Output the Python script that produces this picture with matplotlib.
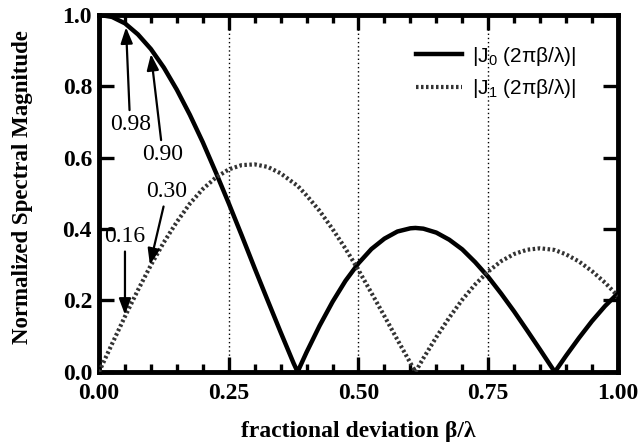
import numpy as np
import matplotlib.pyplot as plt
from matplotlib.ticker import MultipleLocator

plt.rcParams['font.family'] = ['Liberation Serif', 'DejaVu Serif']
plt.rcParams['mathtext.fontset'] = 'custom'
plt.rcParams['mathtext.rm'] = 'Liberation Sans'

# values (fractional deviation beta/lambda)
beta = [0.000, 0.025, 0.050, 0.075, 0.100, 0.125, 0.150, 0.175, 0.200, 0.225,
        0.250, 0.275, 0.300, 0.325, 0.350, 0.375, 0.3827, 0.400, 0.425, 0.450,
        0.475, 0.500, 0.525, 0.550, 0.575, 0.600, 0.6098, 0.625, 0.650, 0.675,
        0.700, 0.725, 0.750, 0.775, 0.800, 0.825, 0.850, 0.875, 0.8786, 0.900,
        0.925, 0.950, 0.975, 1.000]
j0_mag = [1.000, 0.994, 0.976, 0.945, 0.904, 0.852, 0.790, 0.720, 0.643, 0.559,
          0.472, 0.382, 0.290, 0.200, 0.111, 0.024, 0.000, 0.055, 0.129, 0.196,
          0.255, 0.304, 0.344, 0.373, 0.393, 0.402, 0.403, 0.401, 0.390, 0.370,
          0.343, 0.307, 0.266, 0.219, 0.169, 0.116, 0.062, 0.007, 0.000, 0.045,
          0.095, 0.142, 0.184, 0.220]
j1_mag = [0.000, 0.078, 0.155, 0.229, 0.299, 0.363, 0.420, 0.471, 0.512, 0.544,
          0.567, 0.579, 0.581, 0.574, 0.556, 0.529, 0.521, 0.494, 0.451, 0.400,
          0.345, 0.285, 0.221, 0.156, 0.090, 0.025, 0.000, 0.038, 0.097, 0.152,
          0.202, 0.245, 0.281, 0.310, 0.330, 0.342, 0.346, 0.342, 0.341, 0.329,
          0.309, 0.282, 0.250, 0.212]

# annotated sample points: (x, y, label, text x, text y)
notes = [(0.052, 0.965, '0.98', 0.060, 0.692),
         (0.100, 0.890, '0.90', 0.123, 0.608),
         (0.098, 0.300, '0.30', 0.131, 0.504),
         (0.050, 0.160, '0.16', 0.050, 0.378)]

fig = plt.figure(figsize=(6.43, 4.48), dpi=100)
ax = fig.add_axes([0.154, 0.170, 0.807, 0.797])

for xv in [0.25, 0.5, 0.75]:
    ax.axvline(xv, color='black', lw=1, ls=(0, (1, 2)), zorder=1)

ax.plot(beta, j0_mag, color='black', lw=3.2, label=r'|J$_0$ (2πβ/λ)|', zorder=3)
ax.plot(beta, j1_mag, color='#333333', lw=3.0, ls=(0, (0.6, 0.6)),
        label=r'|J$_1$ (2πβ/λ)|', zorder=3)

for x, y, lab, tx, ty in notes:
    ax.annotate(lab, xy=(x, y), xytext=(tx, ty), fontsize=17,
                ha='center', va='center',
                arrowprops=dict(arrowstyle='-|>,head_length=0.8,head_width=0.3',
                                color='black', lw=1.6, mutation_scale=12,
                                shrinkA=1, shrinkB=0))

ax.set_xlim(0, 1)
ax.set_ylim(0, 1)
ax.xaxis.set_major_locator(MultipleLocator(0.25))
ax.xaxis.set_minor_locator(MultipleLocator(0.05))
ax.yaxis.set_major_locator(MultipleLocator(0.2))
ax.xaxis.set_major_formatter(plt.FuncFormatter(lambda v, p: '%.2f' % v))
ax.yaxis.set_major_formatter(plt.FuncFormatter(lambda v, p: '%.1f' % v))
ax.tick_params(which='major', direction='in', length=11, width=2.4,
               top=True, right=True, labelsize=17, pad=5)
ax.tick_params(axis='x', which='major', pad=8)
ax.tick_params(which='minor', direction='in', length=6, width=2.4,
               top=True, right=True)
for lbl in ax.get_xticklabels() + ax.get_yticklabels():
    lbl.set_fontweight('bold')
for sp in ax.spines.values():
    sp.set_linewidth(3.5)

ax.set_xlabel('fractional deviation β/λ', fontsize=17, fontweight='bold', labelpad=12)
ax.set_ylabel('Normalized Spectral Magnitude', fontsize=16.5, fontweight='bold')
ax.yaxis.set_label_coords(-0.128, 0.517)

leg = ax.legend(loc='upper left', bbox_to_anchor=(0.595, 0.94), frameon=False,
                handlelength=2.2, handletextpad=0.5, labelspacing=0.45,
                borderaxespad=0,
                prop={'family': 'Liberation Sans', 'size': 15})

plt.savefig('out.png', dpi=100)
